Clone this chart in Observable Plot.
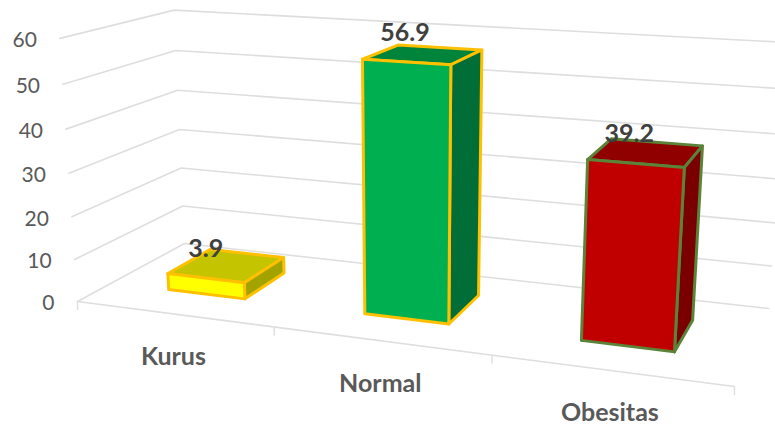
<!DOCTYPE html>
<html>
<head>
<meta charset="utf-8">
<style>html,body{margin:0;padding:0;background:#fff}svg{display:block}</style>
<script src="https://cdn.jsdelivr.net/npm/d3@7"></script>
<script src="https://cdn.jsdelivr.net/npm/@observablehq/plot@0.6"></script>
</head>
<body>
<div id="chart"></div>
<script>
const categories = ["Kurus", "Normal", "Obesitas"];
const values = [3.9, 56.9, 39.2];
const valueLabels = ["3.9", "56.9", "39.2"];
const yTicks = [0, 10, 20, 30, 40, 50, 60];
const frontFills = ["#ffff00", "#00b050", "#c00000"];
const topFills = ["#c4c400", "#00843c", "#900000"];
const sideFills = ["#a3a300", "#006e36", "#7a0000"];
const edgeColors = ["#ffc000", "#ffc000", "#5b8438"];

const GRID = "#dedede", AXIS_TEXT = "#595959", LABEL_TEXT = "#404040", FONT = "Lato, Carlito, sans-serif";
const yMax = 60, nCat = 3, barHalf = 0.2, barShift = 0.005, depthFront = 0.30, depthBack = 0.72;
const labelNudge = [1, 0, -5];

// Camera matrix of the chart's 3D box: (category, depth, value) -> page position
function project(c, w, v) {
  const u = c / nCat, t = v / yMax;
  const D = 1 - 0.1452 * u + 0.13345 * w - 0.05 * t;
  return {
    x: (550.4 * u + 131.55 * w - 20.5 * t + 77) / D,
    y: (28.95 * u - 25.57 * w - 265 * t + 301) / D
  };
}

const marks = [];
const path = (pts, opts) => marks.push(Plot.line(pts, {x: "x", y: "y", strokeLinejoin: "round", ...opts}));

// Walls and floor gridlines
for (const v of yTicks) {
  path([project(0, 0, v), project(0, 1, v), project(nCat, 1, v)], {stroke: GRID, strokeWidth: 1.6});
}
// Front edge of the floor and its ticks
path([project(0, 0, 0), project(nCat, 0, 0)], {stroke: GRID, strokeWidth: 1.6});
for (let c = 0; c <= nCat; c++) {
  const p = project(c, 0, 0);
  marks.push(Plot.ruleX([p], {x: "x", y1: "y", y2: d => d.y + 9, stroke: GRID, strokeWidth: 1.4}));
}

// Bars
categories.forEach((name, i) => {
  const c0 = i + 0.5 + barShift - barHalf, c1 = i + 0.5 + barShift + barHalf, v = values[i];
  const face = (corners, fill) => {
    const pts = corners.map(([c, w, val]) => project(c, w, val));
    path([...pts, pts[0]], {fill, stroke: edgeColors[i], strokeWidth: 3});
  };
  face([[c0, depthFront, v], [c1, depthFront, v], [c1, depthBack, v], [c0, depthBack, v]], topFills[i]);
  face([[c1, depthFront, 0], [c1, depthBack, 0], [c1, depthBack, v], [c1, depthFront, v]], sideFills[i]);
  face([[c0, depthFront, 0], [c1, depthFront, 0], [c1, depthFront, v], [c0, depthFront, v]], frontFills[i]);
});

// Value-axis labels
marks.push(Plot.text(yTicks, {
  x: v => project(0, 0, v).x, y: v => project(0, 0, v).y,
  text: v => String(v), textAnchor: "end", dx: -23, dy: 2,
  fontSize: 21, fontFamily: FONT, fill: AXIS_TEXT
}));
// Category labels
marks.push(Plot.text(categories, {
  x: (d, i) => project(i + 0.5, 0, 0).x, y: (d, i) => project(i + 0.5, 0, 0).y,
  text: d => d, dy: 43, fontSize: 25, fontWeight: "bold", fontFamily: FONT, fill: AXIS_TEXT
}));
// Data labels
marks.push(Plot.text(valueLabels, {
  x: (d, i) => project(i + 0.5, depthFront, values[i]).x + labelNudge[i],
  y: (d, i) => project(i + 0.5, depthFront, values[i]).y,
  text: d => d, dy: -29, fontSize: 25, fontWeight: "bold", fontFamily: FONT, fill: LABEL_TEXT
}));

const chart = Plot.plot({
  width: 775, height: 425,
  margin: 0,
  x: {type: "linear", domain: [0, 775], range: [0, 775], axis: null},
  y: {type: "linear", domain: [0, 425], range: [0, 425], axis: null},
  style: {background: "#fff"},
  marks
});
document.getElementById("chart").append(chart);
</script>
</body>
</html>
